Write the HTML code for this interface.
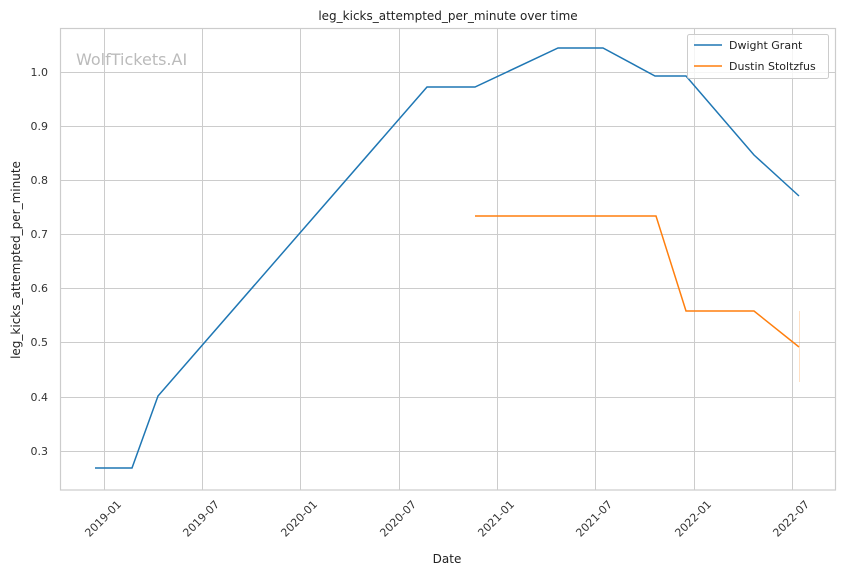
<!DOCTYPE html>
<html><head><meta charset="utf-8"><style>body{margin:0;background:#fff}svg{display:block;font-family:"DejaVu Sans","Liberation Sans",sans-serif}</style></head><body>
<svg width="844" height="575" viewBox="0 0 844 575">
<rect x="60.5" y="28.5" width="775" height="461.5" fill="#fff" stroke="#ccc" stroke-width="1.2"/>
<g stroke="#ccc" stroke-width="1">
<line x1="104.5" y1="28" x2="104.5" y2="490"/><line x1="202.5" y1="28" x2="202.5" y2="490"/><line x1="300.5" y1="28" x2="300.5" y2="490"/><line x1="399.5" y1="28" x2="399.5" y2="490"/><line x1="497.5" y1="28" x2="497.5" y2="490"/><line x1="595.5" y1="28" x2="595.5" y2="490"/><line x1="694.5" y1="28" x2="694.5" y2="490"/><line x1="792.5" y1="28" x2="792.5" y2="490"/>
<line x1="60" y1="72.5" x2="836" y2="72.5"/><line x1="60" y1="126.5" x2="836" y2="126.5"/><line x1="60" y1="180.5" x2="836" y2="180.5"/><line x1="60" y1="234.5" x2="836" y2="234.5"/><line x1="60" y1="288.5" x2="836" y2="288.5"/><line x1="60" y1="342.5" x2="836" y2="342.5"/><line x1="60" y1="397.5" x2="836" y2="397.5"/><line x1="60" y1="451.5" x2="836" y2="451.5"/>
</g>
<text x="76" y="65" font-size="16" fill="#bbb">WolfTickets.AI</text>
<g font-size="11" fill="#333" text-anchor="end">
<text x="48" y="76">1.0</text><text x="48" y="130">0.9</text><text x="48" y="184">0.8</text><text x="48" y="238">0.7</text><text x="48" y="292">0.6</text><text x="48" y="346">0.5</text><text x="48" y="401">0.4</text><text x="48" y="455">0.3</text>
</g>
<g font-size="11" fill="#333" text-anchor="end">
<text transform="translate(122,505) rotate(-45)">2019-01</text>
<text transform="translate(220,505) rotate(-45)">2019-07</text>
<text transform="translate(318,505) rotate(-45)">2020-01</text>
<text transform="translate(417,505) rotate(-45)">2020-07</text>
<text transform="translate(515,505) rotate(-45)">2021-01</text>
<text transform="translate(613,505) rotate(-45)">2021-07</text>
<text transform="translate(712,505) rotate(-45)">2022-01</text>
<text transform="translate(810,505) rotate(-45)">2022-07</text>
</g>
<text x="447" y="563" font-size="12" fill="#222" text-anchor="middle">Date</text>
<text transform="translate(20,260) rotate(-90)" font-size="12" fill="#222" text-anchor="middle">leg_kicks_attempted_per_minute</text>
<text x="448" y="20" font-size="12" fill="#222" text-anchor="middle">leg_kicks_attempted_per_minute over time</text>
<line x1="799.5" y1="311" x2="799.5" y2="382" stroke="#ff7f0e" stroke-opacity="0.25" stroke-width="1"/>
<polyline fill="none" stroke="#1f77b4" stroke-width="1.5" points="95,468 132,468 158,396 427,87 475,87 558,48 603,48 655,76 686,76 754,155 799,196"/>
<polyline fill="none" stroke="#ff7f0e" stroke-width="1.5" points="475,216 656,216 686,311 754,311 799,347"/>
<rect x="687.5" y="34.5" width="141" height="44" rx="2" fill="#fff" fill-opacity="0.8" stroke="#ccc"/>
<line x1="694" y1="45" x2="722" y2="45" stroke="#1f77b4" stroke-width="1.5"/>
<line x1="694" y1="66" x2="722" y2="66" stroke="#ff7f0e" stroke-width="1.5"/>
<text x="729" y="49" font-size="11" fill="#222">Dwight Grant</text>
<text x="729" y="70" font-size="11" fill="#222">Dustin Stoltzfus</text>
</svg></body></html>
